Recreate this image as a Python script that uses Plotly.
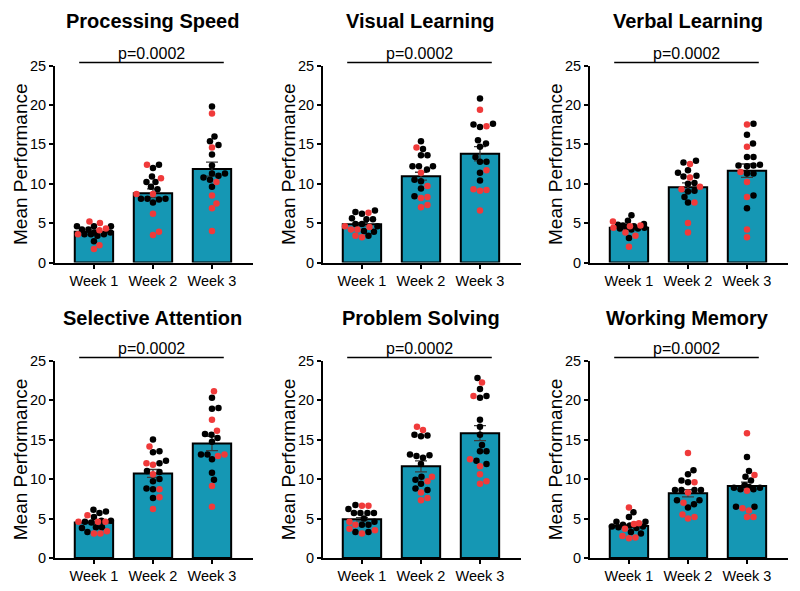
import numpy as np
import plotly.graph_objects as go

# page has an 8px body margin: figure is placed at (8, 8) inside the 800x591 view
OFF = 8
VW, VH = 800, 591
W, H = VW - OFF, VH - OFF

weeks = ["Week 1", "Week 2", "Week 3"]
titles = ["Processing Speed", "Visual Learning", "Verbal Learning",
          "Selective Attention", "Problem Solving", "Working Memory"]
p_labels = ["p=0.0002"] * 6
y_title = "Mean Performance"
y_ticks = [0, 5, 10, 15, 20, 25]

means = [[3.9, 8.8, 11.85], [4.85, 10.95, 13.8], [4.4, 9.55, 11.65],
         [4.5, 10.7, 14.5], [4.9, 11.6, 15.8], [4.05, 8.2, 9.1]]
sems = [[0.2, 0.55, 0.9], [0.2, 0.5, 0.9], [0.15, 0.55, 0.85],
        [0.15, 0.5, 0.9], [0.2, 0.7, 0.95], [0.2, 0.45, 0.5]]

speed_black = [[4.6, 4.6, 4.6, 4.2, 4.2, 3.8, 3.8, 3.6, 3.6, 3.6, 3.4, 2.7],
               [12.4, 12.0, 10.9, 10.2, 10.2, 9.6, 9.3, 8.1, 8.1, 8.1, 7.6, 8.0],
               [19.8, 16.0, 15.4, 14.9, 13.7, 12.3, 11.3, 11.3, 10.8, 10.5, 9.6, 11.0]]
speed_red = [[5.2, 5.0, 4.3, 4.1, 3.6, 2.2, 1.7],
             [12.4, 10.7, 8.7, 8.7, 6.2, 3.9, 3.5],
             [18.9, 14.6, 10.2, 8.5, 7.5, 6.9, 4.0]]

visual_black = [[6.4, 6.2, 6.6, 5.5, 5.6, 5.5, 4.9, 4.6, 3.9, 4.0, 3.4, 4.9],
                [15.4, 14.4, 13.6, 13.6, 12.2, 12.2, 11.8, 12.2, 10.5, 10.3, 9.4, 8.4],
                [20.8, 17.6, 17.2, 17.5, 15.5, 15.1, 14.7, 13.4, 12.8, 12.8, 11.4, 10.4]]
visual_red = [[6.3, 4.6, 4.5, 4.2, 4.2, 3.2, 3.4],
              [14.6, 11.4, 9.7, 8.3, 8.2, 7.0, 7.3],
              [19.4, 17.3, 11.7, 9.2, 9.1, 9.3, 6.6]]

verbal_black = [[6.0, 4.8, 4.7, 5.3, 4.9, 4.3, 4.2, 4.3, 3.1, 4.6, 4.5, 4.4],
                [12.7, 12.9, 11.7, 11.4, 10.9, 10.0, 10.1, 9.0, 9.1, 8.3, 7.6, 11.0],
                [17.6, 16.2, 15.1, 13.4, 13.4, 12.3, 12.3, 12.2, 12.4, 11.3, 11.3, 8.5, 6.9]]
verbal_red = [[5.2, 4.6, 4.7, 3.8, 3.4, 2.0, 4.4],
              [12.5, 10.8, 9.3, 9.6, 7.6, 5.0, 3.8],
              [17.5, 14.7, 11.5, 10.2, 8.3, 4.2, 3.2]]

attention_black = [[6.1, 5.9, 5.7, 5.2, 4.7, 4.7, 4.6, 4.5, 3.8, 3.9, 3.3, 3.9],
                   [15.0, 13.4, 13.5, 12.0, 12.3, 11.0, 10.0, 9.7, 8.8, 8.7, 7.6, 10.9],
                   [20.3, 18.9, 19.0, 15.7, 15.6, 15.2, 14.7, 13.1, 13.1, 12.5, 10.8, 9.9]]
attention_red = [[5.4, 4.6, 4.6, 4.6, 3.1, 3.1, 3.4],
                 [14.1, 11.8, 12.0, 10.6, 8.7, 7.7, 6.2],
                 [21.1, 17.5, 16.1, 13.1, 12.9, 9.1, 6.5]]

problem_black = [[6.7, 5.7, 5.7, 5.7, 6.2, 5.7, 5.0, 4.2, 4.2, 3.3, 3.3, 4.6],
                 [15.6, 15.4, 15.5, 12.9, 13.1, 12.7, 13.0, 11.9, 9.9, 10.3, 9.4, 8.6, 8.8],
                 [22.8, 21.4, 20.5, 20.3, 17.5, 16.6, 15.6, 14.3, 13.5, 13.5, 12.3, 11.9]]
problem_red = [[6.6, 6.6, 4.2, 4.6, 3.5, 3.7, 3.1],
               [16.6, 16.2, 10.3, 9.7, 8.3, 7.3, 7.6],
               [22.2, 20.5, 12.5, 11.6, 10.6, 9.4, 9.7]]

memory_black = [[5.8, 5.2, 4.6, 4.1, 4.2, 3.9, 4.0, 3.8, 4.0, 3.1, 3.3, 4.6],
                [11.1, 10.6, 9.8, 9.6, 8.6, 8.6, 8.6, 8.6, 6.8, 7.3, 7.3, 6.4],
                [12.8, 11.0, 10.3, 9.8, 9.2, 8.7, 8.7, 8.9, 8.9, 6.5, 6.5, 9.0]]
memory_red = [[6.4, 4.3, 4.4, 3.7, 2.5, 2.6, 2.8],
              [13.3, 9.6, 8.3, 5.0, 5.5, 5.2, 7.0],
              [15.8, 10.5, 8.5, 6.0, 6.3, 5.2, 5.2]]

black_sets = [speed_black, visual_black, verbal_black, attention_black, problem_black, memory_black]
red_sets = [speed_red, visual_red, verbal_red, attention_red, problem_red, memory_red]

# ---- layout geometry (in view pixels) ----
BAR_COLOR = "#1597B4"
RED = "#F03A3A"
FONT = "Liberation Sans, Arial, sans-serif"
XR = [-0.66, 2.695]
col_left = [55, 323, 590]
plot_w = 198
row_y0 = [262.5, 558]
row_y25 = [65.5, 360.5]
title_y = [21, 318]
XPX = plot_w / (XR[1] - XR[0])
YPX = (row_y0[0] - row_y25[0]) / 25.0
DOT = 6.5
MAXHALF = 17.0


def px_x(vx):
    return (vx - OFF) / W


def px_y(vy):
    return (H - (vy - OFF)) / H


def swarm(vals, d=DOT, step=0.5, maxhalf=MAXHALF):
    vals = np.asarray(vals, dtype=float)
    order = np.argsort(vals, kind="stable")
    placed = []
    offs = np.zeros(len(vals))
    for i in order:
        yy = vals[i] * YPX
        found = None
        deff = d
        while found is None:
            k = 0
            while k * step <= maxhalf:
                cands = [0.0] if k == 0 else [k * step, -k * step]
                for c in cands:
                    if all((c - px) ** 2 + (yy - py) ** 2 >= deff * deff - 1e-9 for px, py in placed):
                        found = c
                        break
                if found is not None:
                    break
                k += 1
            deff *= 0.9
        placed.append((found, yy))
        offs[i] = found
    return offs / XPX


def xdom(v):
    return (v - XR[0]) / (XR[1] - XR[0])


fig = go.Figure()
layout = dict(width=W, height=H, margin=dict(l=0, r=0, t=0, b=0, autoexpand=False),
              paper_bgcolor="white", plot_bgcolor="white", showlegend=False,
              font=dict(family=FONT, color="black"))
shapes, annotations = [], []

for p in range(6):
    r, c = divmod(p, 3)
    n = "" if p == 0 else str(p + 1)
    xa, ya = "x" + n, "y" + n
    left = col_left[c]
    xd = [px_x(left), px_x(left + plot_w)]
    yd = [px_y(row_y0[r]), px_y(row_y25[r])]
    layout["xaxis" + n] = dict(domain=xd, range=XR, anchor=ya, showgrid=False, zeroline=False,
                               showline=True, linecolor="black", linewidth=2, automargin=False,
                               tickmode="array", tickvals=[0, 1, 2], ticktext=weeks,
                               ticks="outside", ticklen=4, tickwidth=2, tickcolor="black",
                               tickfont=dict(size=14.5, family=FONT, color="black"), fixedrange=True)
    layout["yaxis" + n] = dict(domain=yd, range=[0, 25], anchor=xa, showgrid=False, zeroline=False,
                               showline=True, linecolor="black", linewidth=2, automargin=False,
                               tickmode="array", tickvals=y_ticks,
                               ticks="outside", ticklen=4, tickwidth=2, tickcolor="black",
                               tickfont=dict(size=14.5, family=FONT, color="black"), fixedrange=True)

    fig.add_trace(go.Bar(x=[0, 1, 2], y=means[p], width=0.65, xaxis=xa, yaxis=ya,
                         marker=dict(color=BAR_COLOR, line=dict(color="black", width=2)),
                         error_y=dict(type="data", array=sems[p], visible=True,
                                      color="#3a3a3a", thickness=1.3, width=6)))

    xs_b, ys_b, xs_r, ys_r = [], [], [], []
    for g in range(3):
        b = black_sets[p][g]
        rd = red_sets[p][g]
        allv = list(b) + list(rd)
        offs = swarm(allv)
        for k, v in enumerate(allv):
            if k < len(b):
                xs_b.append(g + offs[k]); ys_b.append(v)
            else:
                xs_r.append(g + offs[k]); ys_r.append(v)
    fig.add_trace(go.Scatter(x=xs_b, y=ys_b, mode="markers", xaxis=xa, yaxis=ya,
                             marker=dict(color="black", size=DOT, line=dict(width=0)),
                             cliponaxis=False))
    fig.add_trace(go.Scatter(x=xs_r, y=ys_r, mode="markers", xaxis=xa, yaxis=ya,
                             marker=dict(color=RED, size=DOT, line=dict(width=0)),
                             cliponaxis=False))

    shapes.append(dict(type="line", xref=xa + " domain", yref=ya + " domain",
                       x0=xdom(-0.25), x1=xdom(2.2), y0=1 + 3 / 197, y1=1 + 3 / 197,
                       line=dict(color="black", width=1.5)))
    annotations.append(dict(text=p_labels[p], xref=xa, yref=ya + " domain", x=0.975,
                            y=1 + 12 / 197, yanchor="middle", xanchor="center",
                            showarrow=False, font=dict(size=16, family=FONT, color="black")))
    annotations.append(dict(text="<b>" + titles[p] + "</b>", xref=xa, yref="paper", x=1,
                            y=px_y(title_y[r]), yanchor="middle",
                            xanchor="center", showarrow=False,
                            font=dict(size=20, family=FONT, color="black")))
    annotations.append(dict(text=y_title, xref="paper", yref="paper", x=px_x(left - 35),
                            y=px_y((row_y0[r] + row_y25[r]) / 2), textangle=-90,
                            xanchor="center", yanchor="middle", showarrow=False,
                            font=dict(size=19, family=FONT, color="black")))

layout["shapes"] = shapes
layout["annotations"] = annotations
fig.update_layout(**layout)
fig.write_html("out.html")
